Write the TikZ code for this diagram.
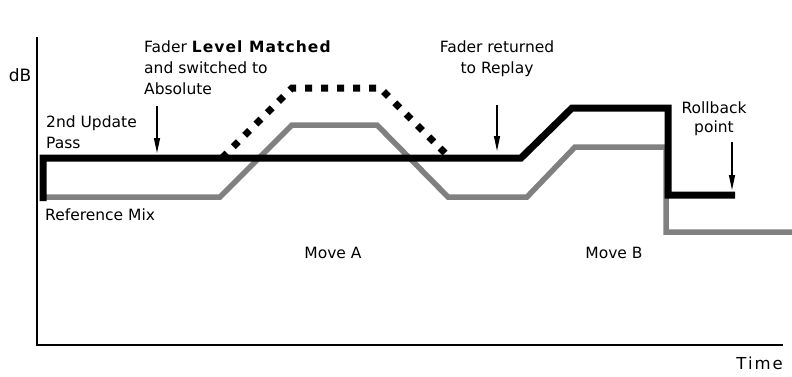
\documentclass[tikz,border=0pt]{standalone}
\usepackage{fontspec}
\setmainfont{DejaVu Sans}
\usetikzlibrary{arrows.meta}
\begin{document}
\begin{tikzpicture}[x=1pt,y=-1pt,
  lbl/.style={inner sep=0pt, font=\fontsize{15.5}{18}\selectfont},
  refmix/.style={draw=black!50, line width=5.5pt, line join=miter},
  update/.style={draw=black, line width=7pt, line join=miter},
  matched/.style={draw=black, line width=7pt, dash pattern=on 7pt off 9pt},
  marker/.style={draw=black, line width=1.3pt, -{Triangle[length=15pt,width=6pt]}},
  axis/.style={draw=black, line width=1.6pt}]
\useasboundingbox (0,0) rectangle (792,376);

% axes
\coordinate (ytop) at (37,37);
\coordinate (origin) at (37,345);
\coordinate (xend) at (783,345);
\draw[axis] (ytop) -- (origin) -- (xend);
\node[lbl, anchor=base, font=\fontsize{17}{20}\selectfont] (db) at (20,81) {dB};
\node[lbl, anchor=base east, font=\fontsize{16.5}{20}\selectfont] (time) at (783,369) {\addfontfeature{LetterSpace=12}Time};

% reference mix (grey)
\draw[refmix] (43,197) -- (220,197) -- (292,125) -- (377,125) -- (448,197)
  -- (527,197) -- (575,147) -- (666,147) -- (666,232) -- (792,232);

% level-matched excursion (dotted)
\draw[matched] (222,158) -- (292,88) -- (380,88) -- (447,155);

% second update pass (black)
\draw[update] (43,201) -- (43,158) -- (521,158) -- (572,108) -- (668,108)
  -- (668,195) -- (735,195);

% labels
\node[lbl, anchor=base west] (fader1) at (144,52) {Fader \textbf{\addfontfeature{LetterSpace=7}Level Matched}};
\node[lbl, anchor=base west] (fader2) at (144,73) {and switched to};
\node[lbl, anchor=base west] (fader3) at (144,94) {Absolute};

\node[lbl, anchor=base west] (upd1) at (46,127) {2nd Update};
\node[lbl, anchor=base west] (upd2) at (46,148) {Pass};
\node[lbl, anchor=base west] (refl) at (45,220) {Reference Mix};

\node[lbl, anchor=base] (ret1) at (497,52) {Fader returned};
\node[lbl, anchor=base] (ret2) at (497,73) {to Replay};

\node[lbl, anchor=base] (rb1) at (714,113) {Rollback};
\node[lbl, anchor=base] (rb2) at (714,132) {point};

\node[lbl, anchor=base] (movea) at (333,258) {Move A};
\node[lbl, anchor=base] (moveb) at (614,258) {Move B};

% event markers
\coordinate (a1s) at (157,106);
\coordinate (a1e) at (157,153);
\coordinate (a2s) at (497,105);
\coordinate (a2e) at (497,151);
\coordinate (a3s) at (732,142);
\coordinate (a3e) at (732,190);
\draw[marker] (a1s) -- (a1e);
\draw[marker] (a2s) -- (a2e);
\draw[marker] (a3s) -- (a3e);
\end{tikzpicture}
\end{document}
